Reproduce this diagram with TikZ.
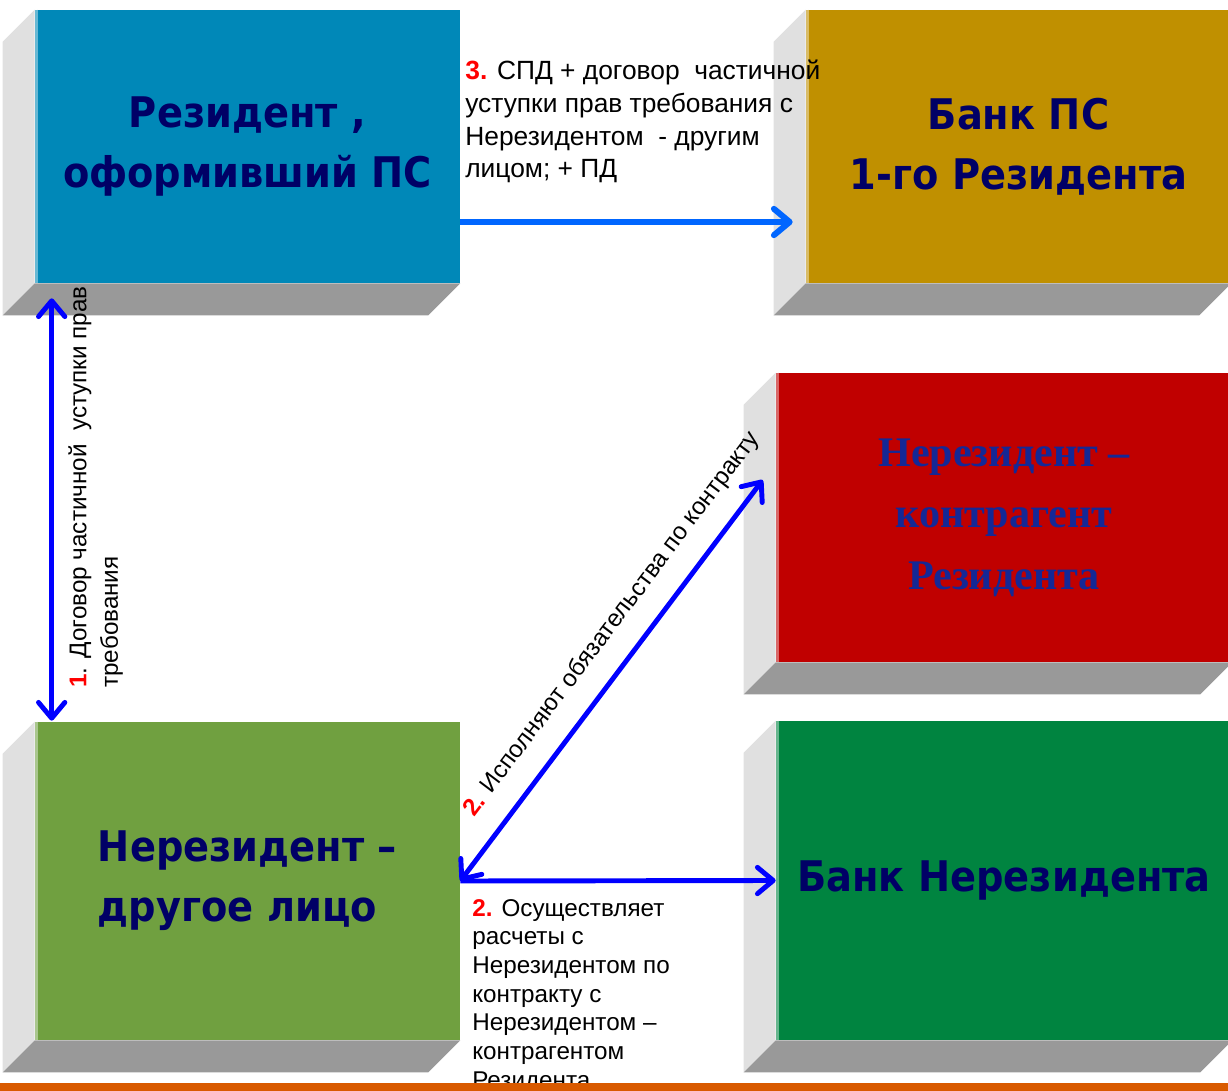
\documentclass[tikz,border=0pt]{standalone}
\usepackage{fontspec}
\setmainfont{Liberation Sans}
\newfontfamily\titlefont[FakeStretch=0.91]{DejaVu Sans}
\newfontfamily\titleserif{Liberation Serif}
\usetikzlibrary{arrows.meta,calc}

\def\blockdepth{32}
\definecolor{rezcolor}{RGB}{0, 136, 184}
\definecolor{bankpscolor}{RGB}{192, 144, 0}
\definecolor{nerkcolor}{RGB}{192, 0, 0}
\definecolor{banknrcolor}{RGB}{0, 132, 64}
\definecolor{nerdrcolor}{RGB}{112, 160, 64}
\definecolor{sidecolor}{RGB}{224, 224, 224}
\definecolor{bottomcolor}{RGB}{153, 153, 153}
\definecolor{titlecolor}{RGB}{0, 0, 102}
\definecolor{serifcolor}{RGB}{20, 40, 150}
\definecolor{arccolor}{RGB}{0, 0, 255}
\definecolor{lightarccolor}{RGB}{0, 102, 255}
\definecolor{numred}{RGB}{255, 0, 0}
\definecolor{barcolor}{RGB}{217, 90, 0}

\begin{document}
\begin{tikzpicture}[x=0.02cm, y=-0.02cm,
    >={Straight Barb[length=9pt, width=15pt, round]},
    block/.style={fill = #1, inner sep=0pt, align=center, text = titlecolor,
        font=\titlefont\fontsize{24}{34}\selectfont\bfseries},
    sideface/.style={fill = sidecolor},
    bottomface/.style={fill = bottomcolor},
    arc/.style={draw, line width=2.8pt, arccolor},
    lightarc/.style={draw, ->, line width=3.4pt, lightarccolor},
    note/.style={inner sep=0pt, align=left, text = black, font=\fontsize{13.8}{16.3}\selectfont}
    ]

    \useasboundingbox (0,0) rectangle (1228,1091);

    % Define blocks
    \node[block=rezcolor, minimum width=8.5cm, minimum height=5.46cm] (rez) at (247.5,146.5) {Резидент ,\\оформивший ПС};
    \node[block=bankpscolor, minimum width=8.5cm, minimum height=5.46cm] (bankps) at (1018.5,146.5) {Банк ПС\\1-го Резидента};
    \node[block=nerkcolor, minimum width=9.12cm, minimum height=5.78cm, text = serifcolor,
        font=\titleserif\fontsize{24}{35}\selectfont\bfseries] (nerk) at (1004,517.5) {Нерезидент –\\контрагент\\Резидента};
    \node[block=banknrcolor, minimum width=9.12cm, minimum height=6.38cm] (banknr) at (1004,880.5) {Банк Нерезидента};
    \node[block=nerdrcolor, minimum width=8.5cm, minimum height=6.36cm, align=left] (nerdr) at (247.5,881) {Нерезидент –\\другое лицо};

    % Define faces
    \foreach \b/\c in {rez/rezcolor, bankps/bankpscolor, nerk/nerkcolor, banknr/banknrcolor, nerdr/nerdrcolor}{
        \fill[sideface] (\b.north west) -- ++(-\blockdepth,\blockdepth) -- ($(\b.south west)+(-\blockdepth,\blockdepth)$) -- (\b.south west) -- cycle;
        \fill[bottomface] (\b.south west) -- (\b.south east) -- ++(-\blockdepth,\blockdepth) -- ($(\b.south west)+(-\blockdepth,\blockdepth)$) -- cycle;
        \draw[\c!60!white, line width=2pt] ($(\b.north west)+(2,0)$) -- ($(\b.south west)+(2,0)$);
    }

    % Define arrows
    \draw[lightarc] ($(rez.east)+(0,75.5)$) -- ($(bankps.west)+(-13,75.5)$);
    \draw[arc, <->] ($(rez.south west)+(17,15)$) -- ($(nerdr.north west)+(17,-1)$);
    \draw[arc, <->] (nerdr.east) -- ($(nerk.west)+(-13,-37.5)$)
        node[pos=0.59, sloped, above=11pt, note] (lab2a) {\textcolor{numred}{\bfseries 2.} Исполняют обязательства по контракту};
    \draw[arc, ->] (nerdr.east) -- (banknr.west);

    % Define labels
    \node[note, anchor=north west, font=\fontsize{15}{18.6}\selectfont] (lab3) at (465,60) {\textcolor{numred}{\bfseries 3.} СПД + договор~ частичной\\уступки прав требования с\\Нерезидентом~ - другим\\лицом; + ПД};
    \node[note, rotate=90, anchor=north west, font=\fontsize{13.8}{18}\selectfont] (lab1) at (68,688) {\textcolor{numred}{\bfseries 1}. Договор частичной~ уступки прав\\требования};
    \node[note, anchor=north west] (lab2b) at (472,899) {\textcolor{numred}{\bfseries 2.} Осуществляет\\расчеты с\\Нерезидентом по\\контракту с\\Нерезидентом –\\контрагентом\\Резидента};

    \fill[barcolor] (0,1083) rectangle (1228,1091);
\end{tikzpicture}
\end{document}
